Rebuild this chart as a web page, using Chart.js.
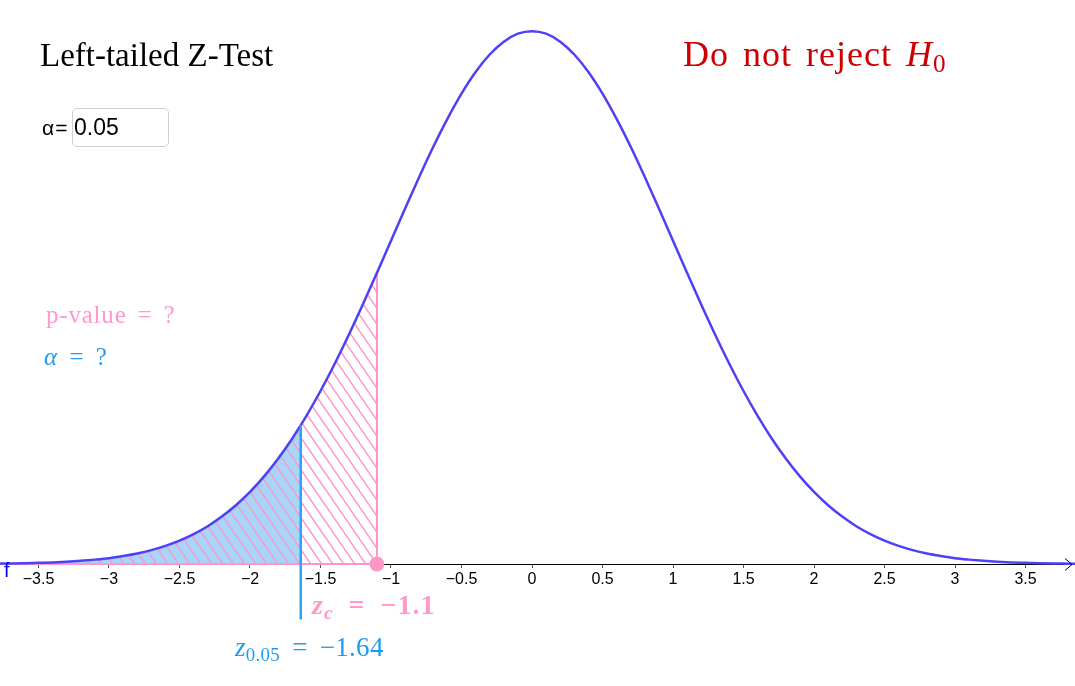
<!DOCTYPE html>
<html>
<head>
<meta charset="utf-8">
<script src="https://cdn.jsdelivr.net/npm/chart.js@4.4.0/dist/chart.umd.min.js"></script>
<style>
  html, body { margin: 0; padding: 0; background: #fff; }
  #wrap { position: relative; width: 1075px; height: 686px; overflow: hidden; }
  #c { position: absolute; left: 0; top: 0; }
  .lbl { position: absolute; white-space: nowrap; line-height: 1; }
  .serif { font-family: "Liberation Serif", "DejaVu Serif", serif; }
  .sans { font-family: "Liberation Sans", Arial, sans-serif; }
  sub { font-size: 70%; vertical-align: -0.25em; line-height: 0; }
  #alphaBox { position: absolute; left: 72px; top: 108px; width: 97px; height: 39px; box-sizing: border-box;
    border: 1px solid #d0d0d0; border-radius: 5px; font: 23px "Liberation Sans", Arial, sans-serif; line-height: 1;
    padding: 6.5px 0 0 1px; color: #000; }
</style>
</head>
<body>
<div id="wrap">
  <canvas id="c" width="1075" height="686"></canvas>
  <div class="lbl serif" style="left:40px;top:38.5px;font-size:33px;color:#000;">Left-tailed Z-Test</div>
  <div class="lbl sans" style="left:42px;top:117px;font-size:21px;letter-spacing:1px;color:#000;">α=</div>
  <div id="alphaBox">0.05</div>
  <div class="lbl serif" style="left:683px;top:36px;font-size:36px;letter-spacing:1px;word-spacing:4px;color:#cc0000;">Do not reject <i>H</i><sub>0</sub></div>
  <div class="lbl serif" style="left:46px;top:302px;font-size:25px;letter-spacing:0.8px;word-spacing:4px;color:#ff99cc;">p-value = ?</div>
  <div class="lbl serif" style="left:44px;top:344px;font-size:25px;word-spacing:6px;color:#1e9bf0;"><i>α</i> = ?</div>
  <div class="lbl serif" style="left:312px;top:591px;font-size:28px;font-weight:bold;letter-spacing:1px;word-spacing:7px;color:#ff99cc;"><i>z</i><sub><i>c</i></sub> = −1.1</div>
  <div class="lbl serif" style="left:235px;top:634px;font-size:27px;letter-spacing:0.3px;word-spacing:5px;color:#1e9bf0;"><i>z</i><sub>0.05</sub> = −1.64</div>
  <div class="lbl sans" style="left:4px;top:560px;font-size:20px;color:#0000ff;">f</div>
</div>
<script>
// ---- data ----
const zValues = [-3.8,-3.7,-3.6,-3.5,-3.4,-3.3,-3.2,-3.1,-3.0,-2.9,-2.8,-2.7,-2.6,-2.5,-2.4,-2.3,-2.2,-2.1,-2.0,-1.9,-1.8,-1.7,-1.64,-1.6,-1.5,-1.4,-1.3,-1.2,-1.1,-1.0,-0.9,-0.8,-0.7,-0.6,-0.5,-0.4,-0.3,-0.2,-0.1,0.0,0.1,0.2,0.3,0.4,0.5,0.6,0.7,0.8,0.9,1.0,1.1,1.2,1.3,1.4,1.5,1.6,1.7,1.8,1.9,2.0,2.1,2.2,2.3,2.4,2.5,2.6,2.7,2.8,2.9,3.0,3.1,3.2,3.3,3.4,3.5,3.6,3.7,3.8,3.9];
const densityValues = [0.0003,0.0004,0.0006,0.0009,0.0012,0.0017,0.0024,0.0033,0.0044,0.0060,0.0079,0.0104,0.0136,0.0175,0.0224,0.0283,0.0355,0.0440,0.0540,0.0656,0.0790,0.0940,0.1040,0.1109,0.1295,0.1497,0.1714,0.1942,0.2179,0.2420,0.2661,0.2897,0.3123,0.3332,0.3521,0.3683,0.3814,0.3910,0.3970,0.3989,0.3970,0.3910,0.3814,0.3683,0.3521,0.3332,0.3123,0.2897,0.2661,0.2420,0.2179,0.1942,0.1714,0.1497,0.1295,0.1109,0.0940,0.0790,0.0656,0.0540,0.0440,0.0355,0.0283,0.0224,0.0175,0.0136,0.0104,0.0079,0.0060,0.0044,0.0033,0.0024,0.0017,0.0012,0.0009,0.0006,0.0004,0.0003,0.0002];
const criticalZ = -1.64;
const criticalDensity = 0.1040;
const testZ = -1.1;
const testDensity = 0.2179;
const blueLineBottom = -0.0415;
const tickValues = [-3.5,-3,-2.5,-2,-1.5,-1,-0.5,0,0.5,1,1.5,2,2.5,3,3.5];
const xMin = -3.773, xMax = 3.851, yMin = -0.0913, yMax = 0.4222;

// ---- build points ----
const curve = zValues.map((z, i) => ({x: z, y: densityValues[i]}));
const alphaRegion = curve.filter(p => p.x <= criticalZ);
const pRegion = curve.filter(p => p.x <= testZ);

// hatch pattern (lines running down-right, ~55 degrees)
function makeHatch() {
  const w = 11, h = 16;
  const pc = document.createElement('canvas');
  pc.width = w; pc.height = h;
  const g = pc.getContext('2d');
  g.strokeStyle = 'rgb(255,150,200)';
  g.lineWidth = 1.5;
  g.beginPath();
  for (const dx of [-w, 0, w]) {
    g.moveTo(dx - w * 0.1, -h * 0.1);
    g.lineTo(dx + w * 1.1, h * 1.1);
  }
  g.stroke();
  return g.createPattern(pc, 'repeat');
}

const arrowPlugin = {
  id: 'arrow',
  afterDatasetsDraw(chart) {
    const ctx = chart.ctx;
    const y = Math.round(chart.scales.y.getPixelForValue(0)) + 0.5;
    const x = chart.chartArea.right - 3;
    ctx.save();
    ctx.strokeStyle = '#000';
    ctx.lineWidth = 1;
    ctx.beginPath();
    ctx.moveTo(x - 7, y - 6); ctx.lineTo(x, y); ctx.lineTo(x - 7, y + 6);
    ctx.stroke();
    ctx.restore();
  }
};

const ctx = document.getElementById('c').getContext('2d');
new Chart(ctx, {
  type: 'scatter',
  data: {
    datasets: [
      { // test point
        data: [{x: testZ, y: 0}], showLine: false,
        pointRadius: 7.5, pointBackgroundColor: 'rgb(255,150,200)', pointBorderWidth: 0, order: 0
      },
      { // critical line
        data: [{x: criticalZ, y: criticalDensity}, {x: criticalZ, y: blueLineBottom}], showLine: true,
        borderColor: 'rgb(40,165,245)', borderWidth: 2.5, pointRadius: 0, order: 1
      },
      { // curve
        data: curve, showLine: true, borderColor: 'rgb(78,64,245)', borderWidth: 2.5,
        pointRadius: 0, cubicInterpolationMode: 'monotone', order: 2
      },
      { // p-value vertical
        data: [{x: testZ, y: 0}, {x: testZ, y: testDensity}], showLine: true,
        borderColor: 'rgb(255,150,200)', borderWidth: 2, pointRadius: 0, order: 3
      },
      { // p-value baseline
        data: [{x: xMin - 0.1, y: 0}, {x: testZ, y: 0}], showLine: true,
        borderColor: 'rgb(255,150,200)', borderWidth: 2, pointRadius: 0, order: 4
      },
      { // p-value hatch
        data: pRegion, showLine: true, borderWidth: 0, borderColor: 'rgba(0,0,0,0)',
        pointRadius: 0, cubicInterpolationMode: 'monotone', fill: 'origin',
        backgroundColor: makeHatch(), order: 5
      },
      { // alpha region
        data: alphaRegion, showLine: true, borderWidth: 0, borderColor: 'rgba(0,0,0,0)',
        pointRadius: 0, cubicInterpolationMode: 'monotone', fill: 'origin',
        backgroundColor: 'rgb(168,214,250)', order: 6
      }
    ]
  },
  options: {
    responsive: false,
    animation: false,
    devicePixelRatio: 1,
    layout: { padding: 0, autoPadding: false },
    plugins: { legend: { display: false }, tooltip: { enabled: false } },
    scales: {
      x: {
        type: 'linear', min: xMin, max: xMax,
        position: { y: 0 },
        afterFit(scale) { scale.height = 0; scale.paddingLeft = 0; scale.paddingRight = 0; },
        afterBuildTicks(scale) { scale.ticks = tickValues.map(v => ({value: v})); },
        grid: { drawOnChartArea: false, drawTicks: true, tickLength: 3, color: '#555', lineWidth: 1 },
        border: { display: true, color: '#000', width: 1 },
        ticks: {
          autoSkip: false, maxRotation: 0, padding: 3, color: '#000',
          font: { family: '"Liberation Sans", Arial, sans-serif', size: 16 },
          callback: v => String(v).replace('-', '\u2212')
        }
      },
      y: { type: 'linear', min: yMin, max: yMax, display: false }
    }
  },
  plugins: [arrowPlugin]
});
</script>
</body>
</html>
